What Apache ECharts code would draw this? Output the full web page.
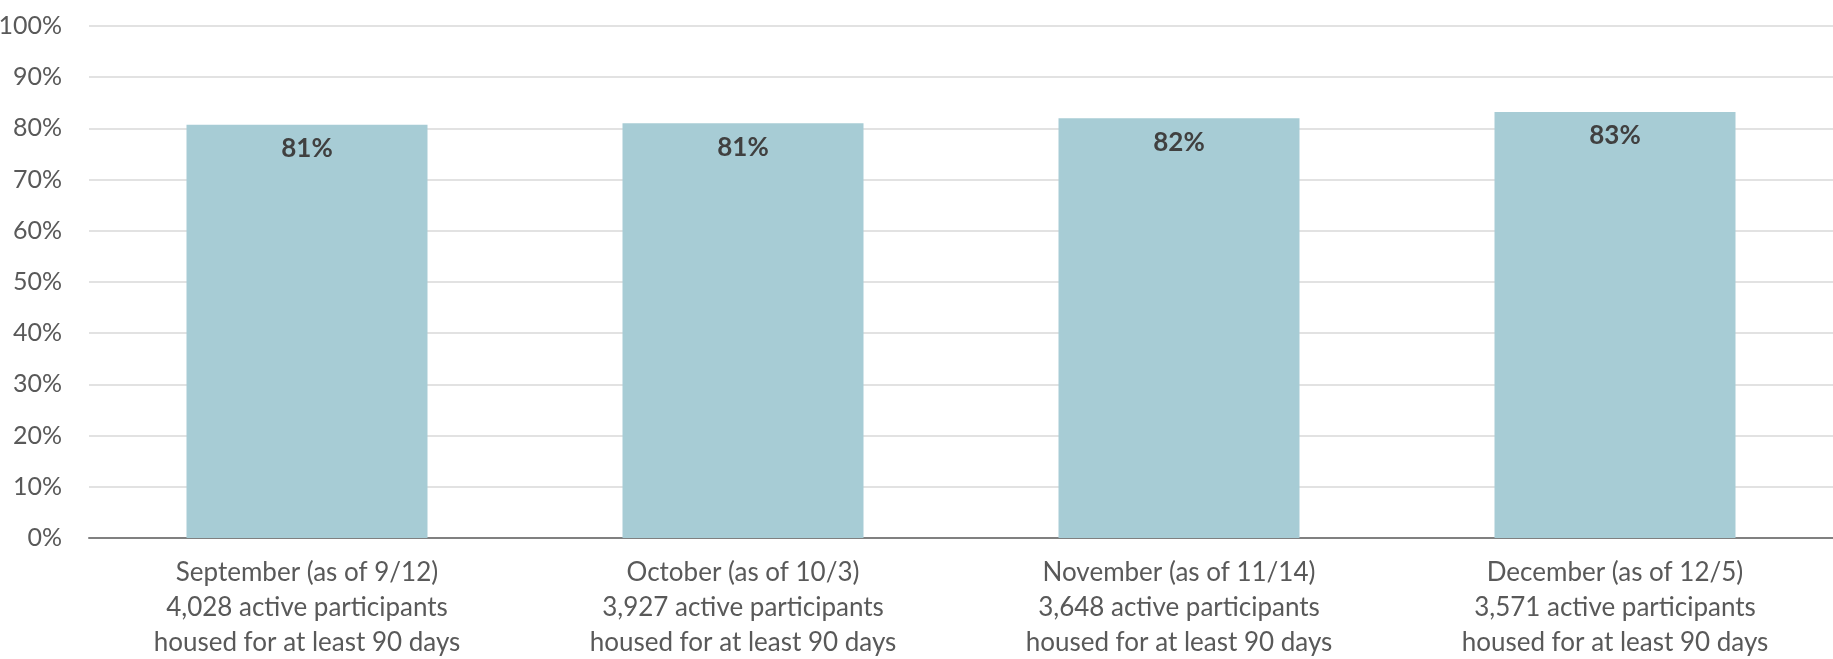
<!DOCTYPE html>
<html>
<head>
<meta charset="utf-8">
<script src="https://cdn.jsdelivr.net/npm/echarts@6/dist/echarts.min.js"></script>
<style>html,body{margin:0;padding:0;background:#fff}#c{width:1833px;height:659px}</style>
</head>
<body>
<div id="c"></div>
<script>
var categories = [
  "September (as of 9/12)\n4,028 active participants\nhoused for at least 90 days",
  "October (as of 10/3)\n3,927 active participants\nhoused for at least 90 days",
  "November (as of 11/14)\n3,648 active participants\nhoused for at least 90 days",
  "December (as of 12/5)\n3,571 active participants\nhoused for at least 90 days"
];
var values = [80.7, 81.0, 82.0, 83.2];
var yTicks = [0, 10, 20, 30, 40, 50, 60, 70, 80, 90, 100];

var chart = echarts.init(document.getElementById('c'));
chart.setOption({
  animation: false,
  grid: { left: 89, right: 0, top: 26, bottom: 121, containLabel: false, outerBoundsMode: 'none' },
  xAxis: {
    type: 'category',
    data: categories,
    axisTick: { show: false },
    axisLine: { lineStyle: { color: '#808080', width: 2 } },
    axisLabel: { color: '#595959', fontFamily: 'Lato', fontSize: 26, lineHeight: 35, margin: 17, interval: 0 }
  },
  yAxis: {
    type: 'value',
    min: yTicks[0], max: yTicks[yTicks.length - 1], interval: 10,
    axisLine: { show: false },
    axisTick: { show: false },
    splitLine: { lineStyle: { color: '#d9d9d9', width: 1.5 } },
    axisLabel: { color: '#595959', fontFamily: 'Lato', fontSize: 25, margin: 27, formatter: '{value}%' }
  },
  series: [{
    type: 'bar',
    data: values,
    barWidth: 241,
    itemStyle: { color: '#a7ccd5' },
    label: {
      show: true, position: 'insideTop', distance: 11,
      color: '#404040', fontFamily: 'Lato', fontWeight: 'bold', fontSize: 26,
      formatter: function (p) { return Math.round(p.value) + '%'; }
    }
  }]
});
</script>
</body>
</html>
